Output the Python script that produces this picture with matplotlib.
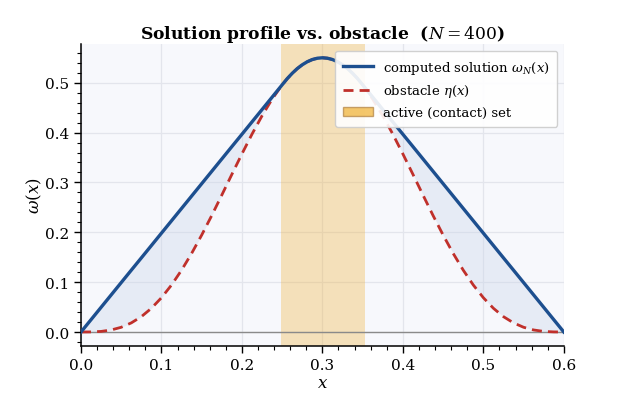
import numpy as np
import matplotlib
matplotlib.use("Agg")
import matplotlib.pyplot as plt
from matplotlib.patches import Patch
from matplotlib.ticker import AutoMinorLocator

# values (step 0.0125, finer near the peak)
x_grid = [0.0, 0.0125, 0.025, 0.0375, 0.05, 0.0625, 0.075, 0.0875, 0.1,
          0.1125, 0.125, 0.1375, 0.15, 0.1625, 0.175, 0.1875, 0.2,
          0.2125, 0.225, 0.2375, 0.25, 0.25625, 0.2625, 0.26875, 0.275,
          0.28125, 0.2875, 0.29375, 0.3, 0.30625, 0.3125, 0.31875, 0.325,
          0.33125, 0.3375, 0.34375, 0.35, 0.3625, 0.375, 0.3875, 0.4,
          0.4125, 0.425, 0.4375, 0.45, 0.4625, 0.475, 0.4875, 0.5,
          0.5125, 0.525, 0.5375, 0.55, 0.5625, 0.575, 0.5875, 0.6]

omega_vals = [0.0, 0.0248, 0.0496, 0.0744, 0.0992, 0.1240, 0.1487, 0.1735,
              0.1983, 0.2231, 0.2479, 0.2727, 0.2975, 0.3223, 0.3471,
              0.3719, 0.3966, 0.4214, 0.4462, 0.4710, 0.4958, 0.5081,
              0.5189, 0.5283, 0.5360, 0.5421, 0.5465, 0.5491, 0.5500,
              0.5491, 0.5465, 0.5421, 0.5360, 0.5283, 0.5189, 0.5081,
              0.4958, 0.4710, 0.4462, 0.4214, 0.3966, 0.3719, 0.3471,
              0.3223, 0.2975, 0.2727, 0.2479, 0.2231, 0.1983, 0.1735,
              0.1487, 0.1240, 0.0992, 0.0744, 0.0496, 0.0248, 0.0]

eta_vals = [0.0, 0.0002, 0.0012, 0.0041, 0.0095, 0.0183, 0.0308, 0.0476,
            0.0688, 0.0943, 0.1241, 0.1577, 0.1945, 0.2337, 0.2747,
            0.3162, 0.3572, 0.3968, 0.4337, 0.4670, 0.4957, 0.5080,
            0.5189, 0.5283, 0.5360, 0.5421, 0.5465, 0.5491, 0.5500,
            0.5491, 0.5465, 0.5421, 0.5360, 0.5283, 0.5189, 0.5080,
            0.4957, 0.4670, 0.4337, 0.3968, 0.3572, 0.3162, 0.2747,
            0.2337, 0.1945, 0.1577, 0.1241, 0.0943, 0.0688, 0.0476,
            0.0308, 0.0183, 0.0095, 0.0041, 0.0012, 0.0002, 0.0]

contact_set = (0.2485, 0.3525)
N = 400

plt.rcParams["font.family"] = "DejaVu Serif"
plt.rcParams["mathtext.fontset"] = "dejavuserif"

x = np.array(x_grid)
omega = np.array(omega_vals)
eta = np.array(eta_vals)

fig = plt.figure(figsize=(6.23, 4.06), dpi=100)
ax = fig.add_subplot(111)
plt.subplots_adjust(left=0.130, right=0.905, bottom=0.146, top=0.889)

ax.set_facecolor("#f7f8fc")
ax.grid(True, color="#e3e5ec", linewidth=0.9, zorder=0)
ax.set_axisbelow(True)

band_color = "#f0b030"
ax.axvspan(contact_set[0], contact_set[1], color=band_color, alpha=0.32,
           lw=0, zorder=1)

ax.fill_between(x, eta, omega, color="#c9d4ea", alpha=0.35, lw=0, zorder=2)
ax.axhline(0.0, color="#8a8a8a", lw=1.0, zorder=2)

ax.plot(x, eta, color="#c0302b", lw=2.0, ls=(0, (3.6, 2.2)), zorder=3,
        label=r"obstacle $\eta(x)$")
ax.plot(x, omega, color="#1d4f8f", lw=2.4, zorder=4,
        label=r"computed solution $\omega_N(x)$")

ax.set_xlim(0.0, 0.6)
ymax = max(omega_vals)
ax.set_ylim(-0.05 * ymax, 1.05 * ymax)

ax.xaxis.set_minor_locator(AutoMinorLocator(5))
ax.yaxis.set_minor_locator(AutoMinorLocator(5))
ax.tick_params(which="major", length=5, width=1.0, labelsize=11)
ax.tick_params(which="minor", length=3, width=0.8)
for side in ("top", "right"):
    ax.spines[side].set_visible(False)
for side in ("left", "bottom"):
    ax.spines[side].set_linewidth(1.1)

ax.set_xlabel(r"$x$", fontsize=12, labelpad=2)
ax.set_ylabel(r"$\omega(x)$", fontsize=12, labelpad=1)
ax.set_title(r"Solution profile vs. obstacle  ($N=%d$)" % N, fontsize=12.3,
             fontweight="bold", pad=4.5)

handles, labels = ax.get_legend_handles_labels()
handles = handles[::-1]
labels = labels[::-1]
handles.append(Patch(facecolor=band_color, edgecolor="#b08040",
                     alpha=0.7))
labels.append("active (contact) set")
ax.legend(handles, labels, loc="upper right", fontsize=9.5,
          framealpha=0.9, borderaxespad=0.5, borderpad=0.6,
          handlelength=2.3, handletextpad=0.7)

plt.savefig("out.png", dpi=100)
